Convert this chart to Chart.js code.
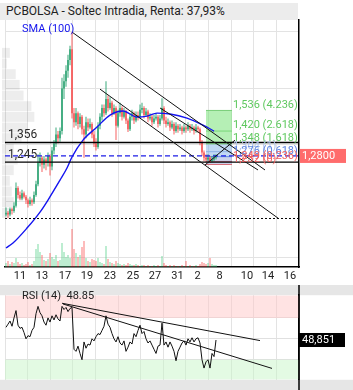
<!DOCTYPE html>
<html>
<head>
<meta charset="utf-8">
<script src="https://cdn.jsdelivr.net/npm/chart.js@4.4.1/dist/chart.umd.min.js"></script>
<style>
  html, body { margin: 0; padding: 0; background: #fff; }
  body { width: 353px; height: 390px; position: relative; overflow: hidden; font-family: Roboto, sans-serif; }
  #main { position: absolute; left: 0; top: 0; }
  #rsi { position: absolute; left: 0; top: 285px; }
  #title { position: absolute; left: 0; top: 3px; width: 292px; height: 17px; padding-left: 6px;
           background: #ececec; color: #222; font-size: 12px; line-height: 17px; white-space: nowrap; }
  #sma { position: absolute; left: 22px; top: 22px; color: #1616ee; font-size: 11px; line-height: 13px; }
  #rsiLabel { position: absolute; left: 22px; top: 289px; color: #222; font-size: 11px; line-height: 13px; }
</style>
</head>
<body>
<canvas id="main" width="353" height="285"></canvas>
<canvas id="rsi" width="353" height="105"></canvas>
<div id="title">PCBOLSA - Soltec Intradia, Renta: 37,93%</div>
<div id="sma">SMA (100)</div>
<div id="rsiLabel">RSI (14)&nbsp; 48.85</div>
<script>
// ---- datos ----
const dayLabels = ['11', '13', '17', '19', '23', '25', '27', '31', '2', '8', '10', '14', '16'];
const dayTickPos = [7, 18, 29.5, 40.5, 52, 63.5, 74.5, 85.75, 95.75, 106.75, 120.5, 131, 142];
const gridTickPos = [-0.5, 10.8, 22.1, 33.4, 44.7, 56, 67.3, 78.6, 89.9, 101.2, 112.5, 123.8, 135.1, 146.4];

const priceTicks = [0.708, 1.022, 1.344, 1.662, 1.98];
const pctLabels = ['-45,28%', '-21,02%', '3,86%', '28,43%', '53,01%'];

const opens = [
  0.95, 0.96, 0.95, 0.98, 0.97, 1.00, 1.10, 1.06, 1.04, 1.07,
  1.05, 1.03, 1.01, 1.03, 1.02, 1.06, 1.12, 1.24, 1.27, 1.23,
  1.26, 1.24, 1.28, 1.22, 1.31, 1.35, 1.40, 1.38, 1.42, 1.66,
  1.70, 1.76, 1.82, 1.88, 1.52, 1.47, 1.52, 1.46, 1.50, 1.43,
  1.40, 1.47, 1.44, 1.46, 1.40, 1.35, 1.33, 1.45, 1.50, 1.55,
  1.52, 1.60, 1.55, 1.58, 1.52, 1.55, 1.45, 1.52, 1.55, 1.50,
  1.53, 1.48, 1.43, 1.50, 1.52, 1.48, 1.51, 1.50, 1.54, 1.55,
  1.51, 1.53, 1.49, 1.50, 1.47, 1.49, 1.50, 1.46, 1.49, 1.55,
  1.48, 1.46, 1.47, 1.44, 1.46, 1.42, 1.45, 1.43, 1.44, 1.42,
  1.44, 1.43, 1.45, 1.43, 1.44, 1.42, 1.44, 1.43, 1.36, 1.30,
  1.27, 1.26, 1.27, 1.25, 1.26, 1.27
];
const highs = [
  0.99, 0.97, 0.99, 0.99, 1.02, 1.13, 1.11, 1.08, 1.09, 1.08,
  1.06, 1.04, 1.05, 1.04, 1.08, 1.14, 1.29, 1.30, 1.28, 1.28,
  1.27, 1.30, 1.29, 1.33, 1.37, 1.44, 1.42, 1.44, 1.72, 1.74,
  1.79, 1.85, 1.90, 1.977, 1.55, 1.55, 1.53, 1.52, 1.51, 1.45,
  1.50, 1.49, 1.49, 1.47, 1.42, 1.38, 1.47, 1.52, 1.57, 1.57,
  1.70, 1.62, 1.61, 1.59, 1.57, 1.56, 1.54, 1.58, 1.56, 1.55,
  1.54, 1.49, 1.52, 1.54, 1.53, 1.53, 1.53, 1.57, 1.58, 1.56,
  1.55, 1.54, 1.52, 1.51, 1.51, 1.52, 1.51, 1.51, 1.605, 1.56,
  1.50, 1.49, 1.48, 1.48, 1.47, 1.47, 1.46, 1.46, 1.45, 1.46,
  1.45, 1.47, 1.46, 1.46, 1.45, 1.46, 1.45, 1.44, 1.37, 1.31,
  1.29, 1.29, 1.28, 1.28, 1.29, 1.29
];
const lows = [
  0.94, 0.93, 0.94, 0.95, 0.96, 0.99, 1.04, 1.03, 1.03, 1.04,
  1.01, 0.99, 1.00, 1.00, 1.01, 1.05, 1.11, 1.22, 1.19, 1.21,
  1.20, 1.22, 1.17, 1.20, 1.29, 1.33, 1.35, 1.36, 1.40, 1.60,
  1.67, 1.72, 1.79, 1.49, 1.44, 1.45, 1.43, 1.44, 1.40, 1.27,
  1.38, 1.42, 1.43, 1.38, 1.33, 1.31, 1.32, 1.43, 1.48, 1.50,
  1.51, 1.53, 1.54, 1.50, 1.51, 1.37, 1.44, 1.50, 1.48, 1.49,
  1.46, 1.415, 1.42, 1.48, 1.46, 1.47, 1.48, 1.49, 1.52, 1.49,
  1.50, 1.47, 1.48, 1.45, 1.46, 1.48, 1.44, 1.45, 1.48, 1.46,
  1.44, 1.45, 1.42, 1.43, 1.40, 1.41, 1.41, 1.42, 1.40, 1.41,
  1.41, 1.42, 1.41, 1.42, 1.40, 1.41, 1.41, 1.34, 1.28, 1.25,
  1.245, 1.25, 1.24, 1.245, 1.25, 1.26
];
const closes = [
  0.96, 0.95, 0.98, 0.97, 1.00, 1.10, 1.06, 1.04, 1.07, 1.05,
  1.03, 1.01, 1.03, 1.02, 1.06, 1.12, 1.24, 1.27, 1.23, 1.26,
  1.24, 1.28, 1.22, 1.31, 1.35, 1.40, 1.38, 1.42, 1.66, 1.70,
  1.76, 1.82, 1.88, 1.52, 1.47, 1.52, 1.46, 1.50, 1.43, 1.40,
  1.47, 1.44, 1.46, 1.40, 1.35, 1.33, 1.45, 1.50, 1.55, 1.52,
  1.60, 1.55, 1.58, 1.52, 1.55, 1.45, 1.52, 1.55, 1.50, 1.53,
  1.48, 1.43, 1.50, 1.52, 1.48, 1.51, 1.50, 1.54, 1.55, 1.51,
  1.53, 1.49, 1.50, 1.47, 1.49, 1.50, 1.46, 1.49, 1.55, 1.48,
  1.46, 1.47, 1.44, 1.46, 1.42, 1.45, 1.43, 1.44, 1.42, 1.44,
  1.43, 1.45, 1.43, 1.44, 1.42, 1.44, 1.43, 1.36, 1.30, 1.27,
  1.26, 1.27, 1.25, 1.26, 1.27, 1.28
];
// volumen (miles de títulos, estimado)
const volumes = [
  40, 60, 30, 50, 40, 90, 50, 30, 40, 20,
  30, 50, 20, 30, 60, 180, 230, 150, 120, 70,
  60, 80, 140, 100, 80, 120, 60, 70, 240, 150,
  100, 120, 90, 380, 180, 140, 100, 120, 200, 260,
  90, 60, 50, 80, 70, 60, 90, 50, 40, 30,
  210, 80, 50, 40, 30, 60, 40, 30, 20, 30,
  20, 40, 30, 20, 20, 30, 20, 10, 20, 20,
  10, 20, 10, 10, 20, 10, 20, 10, 110, 40,
  20, 10, 20, 10, 20, 10, 10, 10, 20, 10,
  60, 10, 20, 10, 10, 20, 10, 30, 50, 40,
  30, 40, 90, 30, 20, 20
];
const rsi = [
  61, 64, 67, 62, 70, 77, 63, 60, 61, 56,
  50, 53, 52, 58, 61, 74, 81, 75, 72, 66,
  63, 70, 66, 72, 68, 73, 69, 67, 81, 78,
  80, 76, 79, 80, 40, 38, 43, 36, 30, 47,
  41, 45, 44, 50, 48, 52, 55, 54, 58, 62,
  72, 64, 61, 55, 50, 47, 52, 46, 44, 48,
  38, 42, 47, 45, 55, 52, 58, 63, 55, 57,
  50, 46, 48, 44, 40, 36, 43, 44, 65, 44,
  47, 42, 47, 43, 38, 29, 38, 42, 46, 48,
  44, 50, 47, 51, 47, 50, 51, 46, 30, 22,
  28, 30, 22, 36, 33, 48.851
];

const smaX = [0, 3.5, 10.5, 17, 21, 27, 30.5, 33, 38.5, 45.5, 52, 58.5, 65.5, 70.5, 75.5, 82, 90.5, 98.5, 104];
const smaY = [0.762, 0.790, 0.874, 0.964, 1.032, 1.144, 1.212, 1.274, 1.369, 1.443, 1.510, 1.533, 1.499, 1.504, 1.521, 1.516, 1.493, 1.454, 1.420];

const supportLevels = [1.356, 1.245];
const supportText = ['1,356', '1,245'];
const baseLevel = 0.928;

// [x0, y0, x1, y1]
const trendLines = [[33, 1.977, 129.5, 1.201], [47, 1.656, 136, 0.930], [77, 1.55, 126, 1.201], [99.5, 1.229, 114.5, 1.369]];
const rsiTrendLines = [[28, 84, 127, 48.3], [28.5, 83.3, 133, 21.7]];

const fibLevels = [1.536, 1.420, 1.348, 1.304, 1.276, 1.249, 1.232];
const fibRatios = ['4.236', '2.618', '1.618', '1', '0.618', '0.236', '0'];
const fibFrom = 100, fibTo = 113;

const profPrice = [1.86, 1.80, 1.74, 1.68, 1.62, 1.56, 1.50, 1.44, 1.38, 1.32, 1.26, 1.20, 1.14, 1.08, 1.02, 0.96];
const profVol = [24, 15, 42, 54, 66, 90, 99, 78, 60, 36, 48, 36, 24, 30, 36, 24];

// ---- estilos ----
const X_MIN = -0.5, X_MAX = 146.5;
const GREEN = 'rgb(38,160,110)', RED = 'rgb(245,80,80)';
const fibLineColors = ['rgb(120,205,120)', 'rgb(120,205,120)', 'rgb(120,205,120)', 'rgb(160,185,230)', 'rgb(90,130,220)', 'rgb(235,100,100)', 'rgb(235,100,100)'];
const fibTextColors = ['rgb(95,200,95)', 'rgb(95,200,95)', 'rgb(95,200,95)', 'rgb(175,195,235)', 'rgb(90,130,225)', 'rgb(240,95,95)', 'rgb(240,95,95)'];
const fibFillTo = [2, null, 4, null, 6, null, null];
const fibFillColors = ['rgba(120,225,120,0.55)', null, 'rgba(120,170,230,0.45)', null, 'rgba(110,130,200,0.35)', null, null];

Chart.defaults.font.family = 'Roboto, sans-serif';
Chart.defaults.animation = false;

const idx = closes.map((_, i) => i);
const isUp = i => closes[i] >= opens[i];
const seg = (x0, y0, x1, y1) => [{ x: x0, y: y0 }, { x: x1, y: y1 }];
const line = (data, color, width, extra) => Object.assign({
  type: 'line', data, borderColor: color, borderWidth: width, pointRadius: 0, fill: false, tension: 0
}, extra || {});
const fmt = (v, d) => v.toFixed(d).replace('.', ',');

const fibSets = fibLevels.map((lv, k) => line(seg(fibFrom, lv, fibTo, lv), fibLineColors[k], 1, {
  order: 10,
  fill: fibFillTo[k] !== null ? { value: fibLevels[fibFillTo[k]] } : false,
  backgroundColor: fibFillColors[k] || 'transparent'
}));

const mainSets = [
  ...fibSets,
  {
    type: 'bar', label: 'Volumen', yAxisID: 'yv', order: 9, grouped: false, maxBarThickness: 1,
    data: idx.map(i => ({ x: i, y: volumes[i] })),
    backgroundColor: ctx => isUp(ctx.dataIndex) ? 'rgba(90,210,140,0.8)' : 'rgba(250,100,100,0.85)'
  },
  {
    type: 'bar', label: 'Mecha', order: 8, grouped: false, maxBarThickness: 0.9,
    data: idx.map(i => ({ x: i, y: [lows[i], highs[i]] })),
    backgroundColor: ctx => isUp(ctx.dataIndex) ? GREEN : RED
  },
  {
    type: 'bar', label: 'Cuerpo', order: 7, grouped: false, maxBarThickness: 1.7,
    data: idx.map(i => ({ x: i, y: [opens[i], closes[i]] })),
    backgroundColor: ctx => isUp(ctx.dataIndex) ? GREEN : RED
  },
  line(smaX.map((x, k) => ({ x, y: smaY[k] })), '#1414f0', 1.4, { order: 5, tension: 0.4, cubicInterpolationMode: 'monotone' }),
  ...supportLevels.map(lv => line(seg(X_MIN, lv, X_MAX, lv), '#000', 1.4, { order: 4 })),
  line(seg(X_MIN, closes[closes.length - 1], X_MAX, closes[closes.length - 1]), '#1e1ee6', 1.2, { order: 4, borderDash: [5, 3] }),
  line(seg(X_MIN, baseLevel, X_MAX, baseLevel), '#000', 1, { order: 4, borderDash: [2, 2] }),
  ...trendLines.map(t => line(seg(t[0], t[1], t[2], t[3]), '#111', 1, { order: 3 }))
];

const profilePlugin = {
  id: 'profile',
  beforeDatasetsDraw(chart) {
    const { ctx, chartArea, scales } = chart;
    ctx.save();
    ctx.fillStyle = 'rgba(0,0,0,0.07)';
    profPrice.forEach((p, k) => {
      const y = scales.y.getPixelForValue(p);
      const w = scales.xpf.getPixelForValue(profVol[k]) - scales.xpf.getPixelForValue(0);
      ctx.fillRect(chartArea.left - 3, y - 5, w, 10);
    });
    ctx.restore();
  }
};

const mainTextPlugin = {
  id: 'mainText',
  afterDatasetsDraw(chart) {
    const { ctx, chartArea, scales } = chart;
    ctx.save();
    ctx.textBaseline = 'bottom';
    ctx.textAlign = 'left';
    ctx.font = '12px Roboto';
    ctx.fillStyle = '#2a2a2a';
    supportLevels.forEach((lv, k) => {
      ctx.fillText(supportText[k], chartArea.left + 3, scales.y.getPixelForValue(lv) - 1);
    });
    ctx.font = '11px Roboto';
    fibLevels.forEach((lv, k) => {
      ctx.fillStyle = fibTextColors[k];
      ctx.fillText(fmt(lv, 3) + ' (' + fibRatios[k] + ')', scales.x.getPixelForValue(fibTo) + 1, scales.y.getPixelForValue(lv));
    });
    ctx.restore();
  },
  afterDraw(chart) {
    const { ctx, chartArea, scales } = chart;
    const last = closes[closes.length - 1];
    const y = scales.y.getPixelForValue(last);
    ctx.save();
    ctx.fillStyle = 'rgba(255,95,95,0.92)';
    ctx.fillRect(chartArea.right + 1, y - 7, 46, 14);
    ctx.fillStyle = '#fff';
    ctx.font = '11px Roboto';
    ctx.textBaseline = 'middle';
    ctx.textAlign = 'left';
    ctx.fillText(fmt(last, 4), chartArea.right + 3, y + 0.5);
    ctx.restore();
  }
};

new Chart(document.getElementById('main'), {
  type: 'line',
  data: { datasets: mainSets },
  plugins: [profilePlugin, mainTextPlugin],
  options: {
    responsive: false,
    events: [],
    layout: { padding: { top: 20, left: 5, right: 54, bottom: 0 } },
    plugins: { legend: { display: false }, tooltip: { enabled: false } },
    scales: {
      x: {
        type: 'linear', min: X_MIN, max: X_MAX, offset: false,
        afterBuildTicks: s => { s.ticks = gridTickPos.map(v => ({ value: v })); },
        afterFit: s => { s.height = 0; },
        ticks: { display: false },
        grid: { color: '#e3e3e3', drawTicks: false, offset: false },
        border: { display: false }
      },
      xl: {
        type: 'linear', position: 'bottom', min: X_MIN, max: X_MAX, offset: false,
        afterBuildTicks: s => { s.ticks = dayTickPos.map(v => ({ value: v })); },
        afterFit: s => { s.height = 18; },
        ticks: { callback: (v, i) => dayLabels[i], autoSkip: false, maxRotation: 0, padding: 3, color: '#222', font: { size: 11 } },
        grid: { display: false, drawTicks: false },
        border: { color: '#000', width: 1.5 }
      },
      xpf: { type: 'linear', position: 'top', display: false, min: 0, max: 900 },
      y: {
        type: 'linear', position: 'right', min: 0.655, max: 2.045,
        afterBuildTicks: s => { s.ticks = priceTicks.map(v => ({ value: v })); },
        afterFit: s => { s.width = 0; },
        ticks: { callback: v => fmt(v, 4), padding: 3, labelOffset: -6, color: '#222', font: { size: 11 } },
        grid: { color: '#e3e3e3', drawTicks: false },
        border: { color: '#000', width: 1.5 }
      },
      yp: {
        type: 'linear', position: 'right', min: 0.655, max: 2.045,
        afterBuildTicks: s => { s.ticks = priceTicks.map(v => ({ value: v })); },
        afterFit: s => { s.width = 0; },
        ticks: {
          callback: (v, i) => pctLabels[i], padding: 3, labelOffset: 5, font: { size: 11 },
          color: ctx => pctLabels[ctx.index].startsWith('-') ? 'rgb(250,80,80)' : 'rgb(55,170,120)'
        },
        grid: { display: false, drawTicks: false },
        border: { display: false }
      },
      yv: { type: 'linear', display: false, min: 0, max: 2470 }
    }
  }
});

// ---- RSI ----
const RSI_MIN = 10.8, RSI_MAX = 91.7;
const rsiSets = [
  ...rsiTrendLines.map(t => line(seg(t[0], t[1], t[2], t[3]), '#111', 1, { order: 1 })),
  line(idx.map(i => ({ x: i, y: rsi[i] })), '#111', 1, { order: 2 }),
  line(seg(X_MIN, RSI_MAX, X_MAX, RSI_MAX), 'transparent', 0, { order: 10, fill: { value: 70 }, backgroundColor: 'rgba(255,200,200,0.5)' }),
  line(seg(X_MIN, 30, X_MAX, 30), 'transparent', 0, { order: 10, fill: { value: RSI_MIN }, backgroundColor: 'rgba(200,245,200,0.5)' })
];

const rsiPlugin = {
  id: 'rsiExtras',
  beforeDraw(chart) {
    const { ctx, width, height, chartArea } = chart;
    ctx.save();
    ctx.fillStyle = '#e6e6e6';
    ctx.fillRect(0, 0, width, chartArea.top);
    ctx.fillRect(0, chartArea.bottom, width, height - chartArea.bottom);
    ctx.restore();
  },
  afterDraw(chart) {
    const { ctx, chartArea, scales } = chart;
    const last = rsi[rsi.length - 1];
    const y = scales.y.getPixelForValue(last);
    ctx.save();
    ctx.strokeStyle = '#000';
    ctx.lineWidth = 1.5;
    ctx.beginPath();
    ctx.moveTo(chartArea.right, 0);
    ctx.lineTo(chartArea.right, chart.height);
    ctx.stroke();
    ctx.fillStyle = '#000';
    ctx.fillRect(chartArea.right, y - 7, 46, 14);
    ctx.fillStyle = '#fff';
    ctx.font = '11px Roboto';
    ctx.textBaseline = 'middle';
    ctx.textAlign = 'left';
    ctx.fillText(fmt(last, 3), chartArea.right + 3, y + 0.5);
    ctx.restore();
  }
};

new Chart(document.getElementById('rsi'), {
  type: 'line',
  data: { datasets: rsiSets },
  plugins: [rsiPlugin],
  options: {
    responsive: false,
    events: [],
    layout: { padding: { top: 3, left: 5, right: 54, bottom: 5 } },
    plugins: { legend: { display: false }, tooltip: { enabled: false } },
    scales: {
      x: {
        type: 'linear', min: X_MIN, max: X_MAX, offset: false,
        afterBuildTicks: s => { s.ticks = gridTickPos.map(v => ({ value: v })); },
        afterFit: s => { s.height = 0; },
        ticks: { display: false },
        grid: { color: '#e3e3e3', drawTicks: false },
        border: { display: false }
      },
      y: {
        type: 'linear', position: 'right', min: RSI_MIN, max: RSI_MAX,
        afterBuildTicks: s => { s.ticks = [30, 50, 70].map(v => ({ value: v })); },
        afterFit: s => { s.width = 0; },
        ticks: {
          callback: v => (v === 50 ? '' : String(v)), padding: 3,
          font: { size: 12, weight: 'bold' },
          color: ctx => (ctx.tick && ctx.tick.value === 70) ? 'rgb(230,25,25)' : 'rgb(25,150,25)'
        },
        grid: { color: '#e0e0e0', drawTicks: false },
        border: { color: '#000', width: 1.5 }
      }
    }
  }
});
</script>
</body>
</html>
